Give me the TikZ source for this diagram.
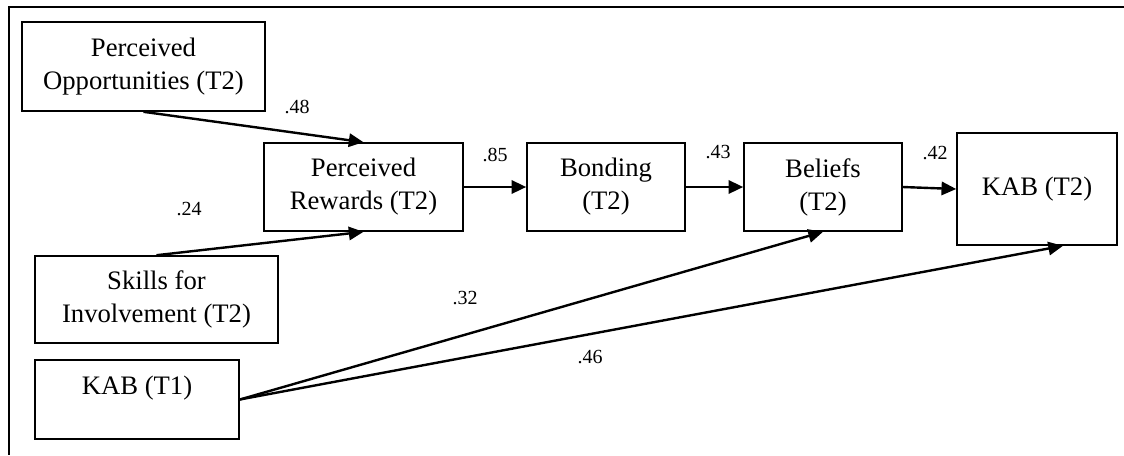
\documentclass[tikz,border=0pt]{standalone}
\usepackage{fontspec}
\setmainfont{Liberation Serif}
\usetikzlibrary{arrows.meta,calc}
\begin{document}
\begin{tikzpicture}[x=0.75pt,y=-0.75pt,
  box/.style={draw,line width=1.2pt,inner sep=0pt,align=center,font=\fontsize{20}{24.75}\selectfont},
  txt/.style={inner sep=0pt,font=\fontsize{20}{24.75}\selectfont},
  coef/.style={inner sep=0pt,font=\fontsize{15}{17}\selectfont},
  arr/.style={line width=1.8pt,-{Triangle[length=11pt,width=10pt]}}]
\useasboundingbox (0,0) rectangle (1124,455);
% frame
\draw[line width=2pt] (8,7) -- (1124,7);
\draw[line width=1.3pt] (9,7) -- (9,455);
% boxes
\node[box,minimum width={243*0.75pt},minimum height={89*0.75pt}] (po) at (143.5,66.5) {Perceived\\Opportunities (T2)};
\node[box,minimum width={199*0.75pt},minimum height={88*0.75pt}] (pr) at (363.5,187) {Perceived\\Rewards (T2)};
\node[box,minimum width={158*0.75pt},minimum height={88*0.75pt}] (bond) at (606,187) {Bonding\\(T2)};
\node[box,minimum width={158*0.75pt},minimum height={88*0.75pt}] (bel) at (823,187) {Beliefs\\(T2)};
\node[box,minimum width={160*0.75pt},minimum height={112*0.75pt}] (kab2) at (1037,189) {KAB (T2)};
\node[box,minimum width={243*0.75pt},minimum height={87*0.75pt}] (sk) at (156.5,299.5) {Skills for\\Involvement (T2)};
\node[box,minimum width={204*0.75pt},minimum height={79*0.75pt}] (kab1) at (137,399.5) {};
\node[txt] (kab1t) at ($(kab1.center)+(0,-11.5)$) {KAB (T1)};
% connectors
\draw[arr] (po.south) -- (pr.north);
\draw[arr] (sk.north) -- (pr.south);
\draw[arr] (pr.east) -- (bond.west);
\draw[arr] (bond.east) -- (bel.west);
\draw[arr] (bel.east) -- (kab2.west);
\draw[arr] (kab1.east) -- (bel.south);
\draw[arr] (kab1.east) -- ($(kab2.south)+(26,0)$);
% coefficients
\node[coef] (c48) at (297,107) {.48};
\node[coef] (c24) at (189,209) {.24};
\node[coef] (c85) at (495,155) {.85};
\node[coef] (c43) at (718,152) {.43};
\node[coef] (c42) at (935,153) {.42};
\node[coef] (c32) at (465,298) {.32};
\node[coef] (c46) at (590,357) {.46};
\end{tikzpicture}
\end{document}
